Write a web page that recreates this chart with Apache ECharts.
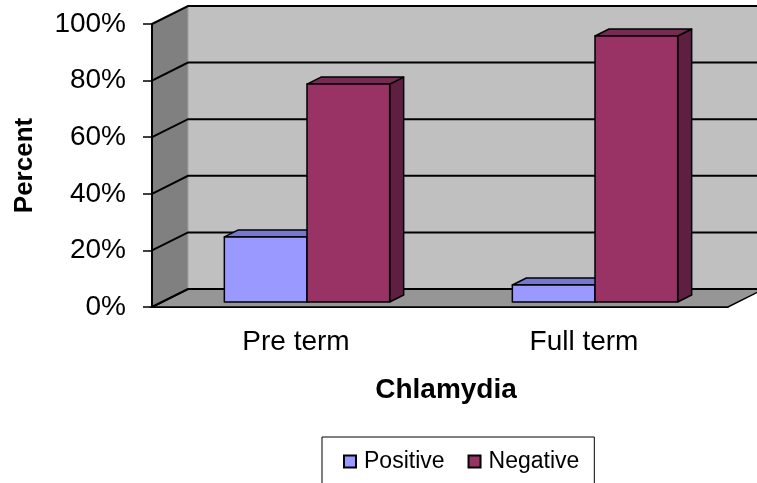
<!DOCTYPE html>
<html>
<head>
<meta charset="utf-8">
<script src="https://cdn.jsdelivr.net/npm/echarts@6/dist/echarts.min.js"></script>
<style>html,body{margin:0;padding:0;background:#fff}#main{width:757px;height:483px}</style>
</head>
<body>
<div id="main"></div>
<script>
var categories = ['Pre term', 'Full term'];
var positive = [23, 6];
var negative = [77, 94];
var yTicks = [0, 20, 40, 60, 80, 100];

// 3D look: depth of the walls and of the bars (pixels)
var DX = 36, DY = -18;
var BX0 = 11, BY0 = -5;
var BX1 = 25, BY1 = -12;
var FONT = 'Liberation Sans, Arial, sans-serif';

function wallsItem(params, api) {
    var cs = params.coordSys;
    var x0 = cs.x, x1 = cs.x + cs.width;
    var yb = api.coord([0, 0])[1];
    var yt = api.coord([0, 100])[1];
    var kids = [];
    kids.push({type: 'polygon', shape: {points: [[x0 + DX, yt + DY], [x1 + DX, yt + DY], [x1 + DX, yb + DY], [x0 + DX, yb + DY]]},
        style: {fill: '#c0c0c0'}});
    kids.push({type: 'polygon', shape: {points: [[x0, yt], [x0 + DX, yt + DY], [x0 + DX, yb + DY], [x0, yb]]},
        style: {fill: '#808080'}});
    kids.push({type: 'polyline', shape: {points: [[x0 + DX, yt + DY], [x0 + DX, yb + DY]]},
        style: {stroke: '#a0a0a0', lineWidth: 1, fill: null}});
    kids.push({type: 'polygon', shape: {points: [[x0, yb], [x0 + DX, yb + DY], [x1 + DX, yb + DY], [x1, yb]]},
        style: {fill: '#969696', stroke: '#000', lineWidth: 1.5}});
    yTicks.forEach(function (v) {
        var y = api.coord([0, v])[1];
        kids.push({type: 'polyline', shape: {points: [[x0, y], [x0 + DX, y + DY], [x1 + DX, y + DY]]},
            style: {stroke: '#000', lineWidth: 2, fill: null}});
    });
    return {type: 'group', children: kids};
}

function barItem(left, front, top, side) {
    return function (params, api) {
        var i = api.value(0), v = api.value(1);
        var c = api.coord([i, 0]);
        var yTop = api.coord([i, v])[1];
        var w = api.size([1, 0])[0] * 0.287;
        var xl = (left ? c[0] - w : c[0]) + BX0;
        var xr = xl + w;
        var y0 = c[1] + BY0, y1 = yTop + BY0;
        var dx = BX1 - BX0, dy = BY1 - BY0;
        var st = {stroke: '#000', lineWidth: 1.5, lineJoin: 'round'};
        return {type: 'group', children: [
            {type: 'polygon', shape: {points: [[xr, y1], [xr + dx, y1 + dy], [xr + dx, y0 + dy], [xr, y0]]},
                style: Object.assign({fill: side}, st)},
            {type: 'polygon', shape: {points: [[xl, y1], [xl + dx, y1 + dy], [xr + dx, y1 + dy], [xr, y1]]},
                style: Object.assign({fill: top}, st)},
            {type: 'rect', shape: {x: xl, y: y1, width: w, height: y0 - y1},
                style: Object.assign({fill: front}, st)}
        ]};
    };
}

var myChart = echarts.init(document.getElementById('main'));
var option = {
    animation: false,
    backgroundColor: '#fff',
    grid: {left: 152, right: 29, top: 24, bottom: 176, containLabel: false},
    legend: {
        data: ['Positive', 'Negative'],
        left: 322, top: 437,
        padding: [13, 15, 30, 21],
        itemGap: 23,
        itemWidth: 12, itemHeight: 12,
        icon: 'rect',
        itemStyle: {borderColor: '#000', borderWidth: 2},
        borderColor: '#000', borderWidth: 1, backgroundColor: '#fff',
        textStyle: {fontFamily: FONT, fontSize: 23, color: '#000', padding: [0, 0, 0, 3]}
    },
    xAxis: {
        type: 'category',
        data: categories,
        z: 10,
        name: 'Chlamydia',
        nameLocation: 'middle',
        nameGap: 69,
        nameTextStyle: {fontFamily: FONT, fontSize: 28, fontWeight: 'bold', color: '#000', padding: [0, 0, 0, 12]},
        axisLine: {lineStyle: {color: '#000', width: 1}},
        axisTick: {length: 8, lineStyle: {color: '#000'}},
        axisLabel: {fontFamily: FONT, fontSize: 28, color: '#000', margin: 21}
    },
    yAxis: {
        type: 'value',
        min: 0, max: 100, interval: 20,
        z: 10,
        name: 'Percent',
        nameLocation: 'middle',
        nameRotate: 90,
        nameGap: 114,
        nameTextStyle: {fontFamily: FONT, fontSize: 26, fontWeight: 'bold', color: '#000'},
        axisLine: {show: true, lineStyle: {color: '#000', width: 2}},
        axisTick: {show: true, length: 9, lineStyle: {color: '#000', width: 1.5}},
        axisLabel: {fontFamily: FONT, fontSize: 28, color: '#000', margin: 26, formatter: '{value}%'},
        splitLine: {show: false}
    },
    series: [
        {type: 'custom', name: 'walls', z: 1, silent: true, clip: false, data: [[0, 0]], renderItem: wallsItem},
        {type: 'custom', name: 'Positive', z: 2, clip: false, itemStyle: {color: '#9999ff'},
            data: positive.map(function (v, i) { return [i, v]; }),
            renderItem: barItem(true, '#9999ff', '#7777cc', '#5c5c99')},
        {type: 'custom', name: 'Negative', z: 3, clip: false, itemStyle: {color: '#993366'},
            data: negative.map(function (v, i) { return [i, v]; }),
            renderItem: barItem(false, '#993366', '#7a2952', '#5f1f40')}
    ]
};
myChart.setOption(option);
</script>
</body>
</html>
